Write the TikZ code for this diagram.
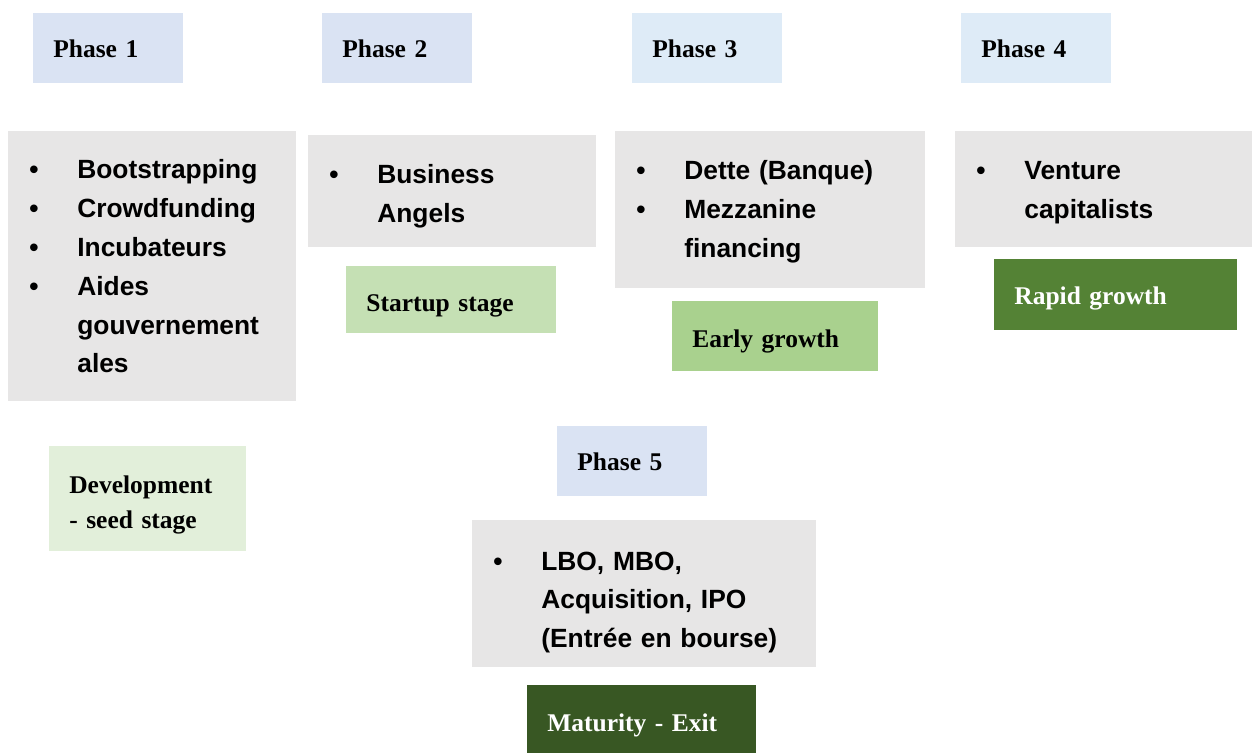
\documentclass[tikz,border=0pt]{standalone}
\usepackage{fontspec}
\setmainfont{Liberation Serif}
\setsansfont{Liberation Sans}
\usepackage{tikz}
\usetikzlibrary{positioning}
\usepackage{xcolor}
\definecolor{phaseblue}{RGB}{218,227,243}
\definecolor{phasesky}{RGB}{222,235,247}
\definecolor{boxgray}{RGB}{231,230,230}
\definecolor{seedgreen}{RGB}{226,239,218}
\definecolor{startgreen}{RGB}{197,224,180}
\definecolor{earlygreen}{RGB}{169,209,142}
\definecolor{rapidgreen}{RGB}{84,130,53}
\definecolor{exitgreen}{RGB}{56,87,35}
\newcommand{\bul}{\makebox[0.88cm][l]{\hspace*{-0.08cm}\textbullet}}
\newcommand{\cont}{\hspace*{0.88cm}}
\newcommand{\topgap}[1]{\rule{0pt}{#1}}
\tikzset{
  labelbox/.style={anchor=north west,inner xsep=0.4cm,inner ysep=0pt,align=left,
    font=\bfseries\fontsize{14.5}{19.9}\selectfont},
  phasebox/.style={labelbox,fill=phaseblue,text width=2.2cm,minimum height=1.4cm},
  phaseboxs/.style={phasebox,fill=phasesky},
  stagebox/.style={labelbox,fill=#1},
  fundbox/.style={anchor=north west,fill=boxgray,inner xsep=0.5cm,inner ysep=0pt,align=left,
    font=\sffamily\bfseries\fontsize{15}{22.1}\selectfont}
}
\begin{document}
\begin{tikzpicture}[x=0.2mm,y=-0.2mm]
  \useasboundingbox (0,0) rectangle (1252,753);
  % phase headers
  \node[phasebox] (ph1) at (33,13) {Phase 1};
  \node[phasebox] (ph2) at (322,13) {Phase 2};
  \node[phaseboxs] (ph3) at (632,13) {Phase 3};
  \node[phaseboxs] (ph4) at (961,13) {Phase 4};
  \node[phasebox] (ph5) at (557,426) {Phase 5};
  % funding sources
  \node[fundbox,text width=4.76cm,minimum height=5.4cm] (fund1) at (8,131)
    {\bul Bootstrapping\\\bul Crowdfunding\\\bul Incubateurs\\\bul Aides\\\cont gouvernement\\\cont ales};
  \node[fundbox,text width=4.76cm,minimum height=2.24cm] (fund2) at (308,135)
    {\topgap{0.59cm}\bul Business\\\cont Angels};
  \node[fundbox,text width=5.2cm,minimum height=3.14cm] (fund3) at (615,131)
    {\topgap{0.47cm}\bul Dette (Banque)\\\bul Mezzanine\\\cont financing};
  \node[fundbox,text width=4.94cm,minimum height=2.32cm] (fund4) at (955,131)
    {\topgap{0.51cm}\bul Venture\\\cont capitalists};
  \node[fundbox,text width=5.88cm,minimum height=2.94cm] (fund5) at (472,520)
    {\topgap{0.71cm}\bul LBO, MBO,\\\cont Acquisition, IPO\\\cont (Entrée en bourse)};
  % stages
  \node[stagebox=seedgreen,text width=3.14cm,minimum height=2.1cm] (seed) at (49,446)
    {\topgap{0.59cm}Development\\- seed stage};
  \node[stagebox=startgreen,text width=3.4cm,minimum height=1.34cm] (startup) at (346,266)
    {\topgap{0.59cm}Startup stage};
  \node[stagebox=earlygreen,text width=3.32cm,minimum height=1.4cm] (early) at (672,301)
    {\topgap{0.55cm}Early growth};
  \node[stagebox=rapidgreen,text=white,text width=4.06cm,minimum height=1.42cm] (rapid) at (994,259)
    {\topgap{0.51cm}Rapid growth};
  \node[stagebox=exitgreen,text=white,text width=3.78cm,minimum height=1.36cm] (exit) at (527,685)
    {\topgap{0.59cm}Maturity - Exit};
\end{tikzpicture}
\end{document}
